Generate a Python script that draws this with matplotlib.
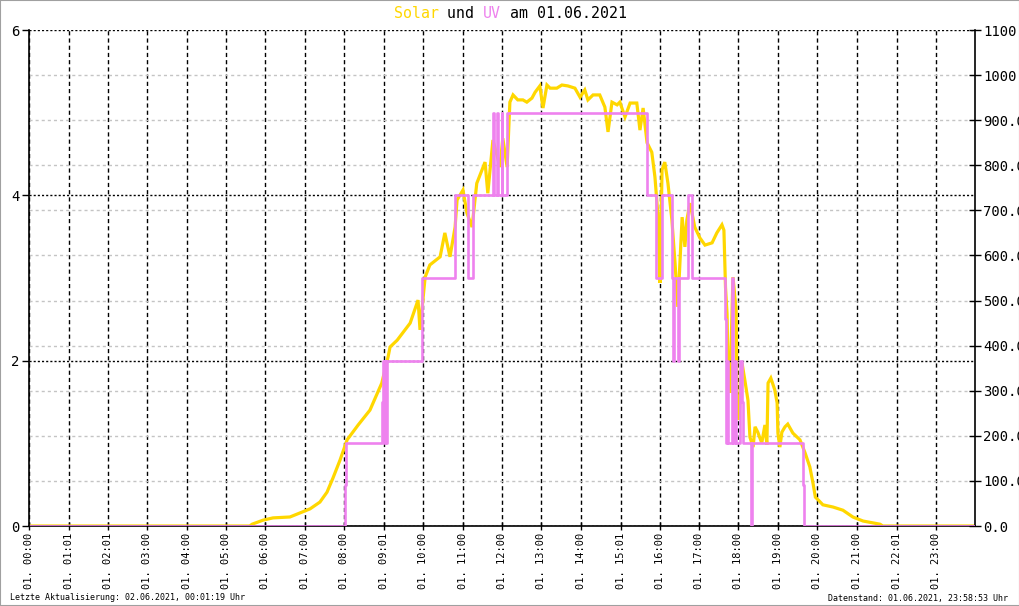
import matplotlib
matplotlib.use("Agg")
import matplotlib.pyplot as plt
from matplotlib.patches import Rectangle

# Solar radiation (W/m², right axis), hour of day -> value
solar_h = [0.00, 5.60, 5.66, 5.94, 6.19, 6.62, 7.13, 7.38, 7.56, 7.71, 7.89, 8.07,
           8.35, 8.65, 8.95, 9.11, 9.16, 9.34, 9.67, 9.87, 9.92, 10.05, 10.17,
           10.43, 10.55, 10.68, 10.81, 10.86, 11.01, 11.11, 11.24, 11.36, 11.57,
           11.64, 11.77, 11.95, 12.02, 12.13, 12.20, 12.28, 12.40, 12.53, 12.63,
           12.76, 12.84, 12.96, 13.04, 13.14, 13.22, 13.39, 13.52, 13.67, 13.85,
           13.98, 14.10, 14.18, 14.31, 14.48, 14.61, 14.69, 14.79, 14.92, 14.99,
           15.12, 15.25, 15.42, 15.50, 15.58, 15.68, 15.80, 15.88, 15.96, 16.01,
           16.06, 16.13, 16.21, 16.31, 16.39, 16.46, 16.57, 16.64, 16.69, 16.77,
           16.89, 17.02, 17.15, 17.33, 17.45, 17.58, 17.63, 17.67, 17.71, 17.73,
           17.78, 17.86, 17.94, 17.96, 18.01, 18.09, 18.16, 18.24, 18.29, 18.37,
           18.42, 18.49, 18.59, 18.67, 18.72, 18.75, 18.82, 18.92, 18.98, 19.00,
           19.05, 19.10, 19.18, 19.25, 19.38, 19.56, 19.69, 19.81, 19.89, 19.95,
           20.02, 20.14, 20.40, 20.65, 20.90, 21.16, 21.59, 21.66, 24.00]
solar_w = [0, 0, 4, 13, 18, 20, 38, 53, 75, 106, 146, 191,
           224, 257, 317, 375, 397, 412, 450, 501, 435, 552, 579,
           597, 650, 597, 663, 723, 745, 694, 663, 760, 807,
           738, 856, 796, 860, 796, 940, 956, 945, 945, 940,
           949, 962, 976, 927, 978, 971, 971, 978, 976, 971,
           951, 967, 945, 956, 956, 929, 874, 940, 934, 940,
           907, 938, 938, 878, 927, 850, 829, 774, 685, 539,
           790, 807, 760, 679, 583, 486, 685, 619, 679, 716,
           663, 639, 623, 628, 650, 668, 656, 530, 470, 375,
           295, 552, 479, 295, 235, 361, 324, 279, 197, 175,
           220, 208, 184, 224, 180, 317, 328, 302, 273, 206,
           175, 208, 220, 226, 206, 191, 162, 131, 95, 64,
           58, 47, 42, 35, 20, 11, 4, 0, 0]

# UV index (left axis), step values starting at hour
uv_h = [0.00, 8.02, 8.04, 8.95, 8.98, 9.01, 9.04, 9.06, 9.08, 9.97, 10.81,
        11.14, 11.26, 11.77, 11.80, 11.88, 11.91, 11.99, 12.01, 12.12, 15.68,
        15.91, 16.06, 16.31, 16.34, 16.36, 16.46, 16.49, 16.72, 16.82, 17.66,
        17.68, 17.72, 17.74, 17.83, 17.87, 17.90, 17.93, 18.05, 18.10, 18.12,
        18.32, 18.35, 19.63, 19.66, 24.00]
uv_v = [0, 0.5, 1, 1.5, 2, 1, 2, 1, 2, 3, 4,
        3, 4, 5, 4, 5, 4, 5, 4, 5, 4,
        3, 4, 3, 2, 3, 2, 3, 4, 3, 2.5,
        1, 2, 1, 3, 1, 2, 1, 2, 1.5, 1,
        0, 1, 0.5, 0, 0]

x_labels = ["01. 00:00", "01. 01:01", "01. 02:01", "01. 03:00", "01. 04:00",
            "01. 05:00", "01. 06:00", "01. 07:00", "01. 08:00", "01. 09:01",
            "01. 10:00", "01. 11:00", "01. 12:00", "01. 13:00", "01. 14:00",
            "01. 15:01", "01. 16:00", "01. 17:00", "01. 18:00", "01. 19:00",
            "01. 20:00", "01. 21:00", "01. 22:01", "01. 23:00"]
x_ticks = [int(s[4:6]) + int(s[7:9]) / 60 for s in x_labels]
uv_ticks = [0, 2, 4, 6]
solar_ticks = list(range(0, 1101, 100))

SOLAR = "#ffd700"
UV = "#ee82ee"

plt.rcParams["font.family"] = ["DejaVu Sans Mono"]

fig = plt.figure(figsize=(10.2, 6.06), dpi=100)
pos = [29 / 1020, 80 / 606, 946 / 1020, 496 / 606]

# solar axis: background, carries x axis, vertical grid, grey grid
ax_s = fig.add_axes(pos)
ax_s.set_zorder(1)
ax_s.plot(solar_h, solar_w, color=SOLAR, lw=2.3, solid_joinstyle="miter")
ax_s.set_xlim(0, 24)
ax_s.set_ylim(0, 1100)
ax_s.yaxis.tick_right()
ax_s.set_yticks(solar_ticks)
ax_s.set_yticklabels([f"{v:.1f}" for v in solar_ticks], fontsize=10)
ax_s.set_xticks(x_ticks)
ax_s.set_xticklabels(x_labels, rotation=90, fontsize=7.5)
ax_s.tick_params(axis="x", direction="inout", length=6, width=1, pad=2)
ax_s.tick_params(axis="y", direction="inout", length=8, width=1, pad=2)
ax_s.grid(axis="x", color="black", ls=(0, (3, 2.2)), lw=1)
ax_s.grid(axis="y", color="#c4c4c4", ls=(0, (2.2, 2.2)), lw=1)
for t in (ax_s.yaxis.get_major_ticks()[0], ax_s.yaxis.get_major_ticks()[-1]):
    t.gridline.set_visible(False)
for side in ("top", "left"):
    ax_s.spines[side].set_visible(False)
for side in ("right", "bottom"):
    ax_s.spines[side].set_linewidth(1.2)

# UV axis: on top, left scale, black dotted grid
ax_u = fig.add_axes(pos, sharex=ax_s)
ax_u.set_zorder(2)
ax_u.patch.set_visible(False)
ax_u.step(uv_h, uv_v, where="post", color=UV, lw=1.9)
ax_u.set_ylim(0, 6)
ax_u.set_yticks(uv_ticks)
ax_u.set_yticklabels([str(v) for v in uv_ticks], fontsize=10)
ax_u.tick_params(axis="y", direction="out", length=5, width=1, pad=2)
ax_u.tick_params(axis="x", bottom=False, labelbottom=False)
ax_u.set_axisbelow(True)
ax_u.grid(axis="y", color="black", ls=(0, (1.5, 1.5)), lw=1)
for side in ("top", "right", "bottom"):
    ax_u.spines[side].set_visible(False)
ax_u.spines["left"].set_linewidth(1.2)

# title in colored pieces (monospace)
fs = 10.7
cw = 0.602 * fs * 100 / 72 / 1020
pieces = [("Solar", SOLAR), (" und ", "black"), ("UV", UV), (" am 01.06.2021", "black")]
n = sum(len(p) for p, _ in pieces)
x = 0.5 - n * cw / 2
for txt, col in pieces:
    fig.text(x, 1 - 13 / 606, txt, color=col, fontsize=fs, ha="left", va="center")
    x += len(txt) * cw

fig.text(10 / 1020, 1 - 598 / 606, "Letzte Aktualisierung: 02.06.2021, 00:01:19 Uhr",
         fontsize=6, ha="left", va="center")
fig.text(1008 / 1020, 1 - 598 / 606, "Datenstand: 01.06.2021, 23:58:53 Uhr",
         fontsize=6, ha="right", va="center")

fig.patches.append(Rectangle((0, 0), 1, 1, transform=fig.transFigure, fill=False,
                             edgecolor="#a0a0a0", lw=1.5))

fig.savefig("out.png", dpi=100)
